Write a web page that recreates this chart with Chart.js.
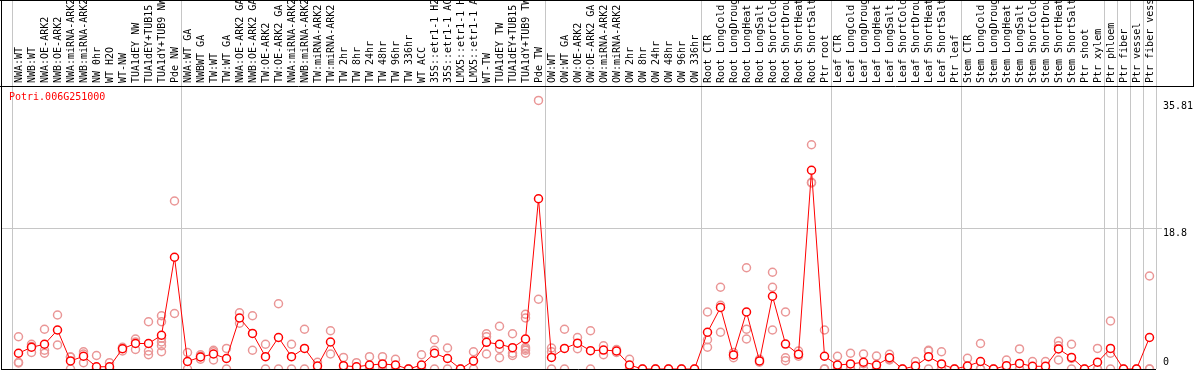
<!DOCTYPE html>
<html>
<head>
<meta charset="utf-8">
<script src="https://cdn.jsdelivr.net/npm/chart.js@4"></script>
<style>
  html, body { margin: 0; padding: 0; background: #fff; }
  #wrap { width: 1194px; height: 370px; }
</style>
</head>
<body>
<div id="wrap"><canvas id="chart" width="1194" height="370"></canvas></div>
<script>
const geneId = 'Potri.006G251000';

const labels = [
  'NWA:WT', 'NWB:WT', 'NWA:OE-ARK2', 'NWB:OE-ARK2', 'NWA:miRNA-ARK2', 'NWB:miRNA-ARK2', 'NW 0hr', 'WT H2O', 'WT-NW',
  'TUA1dEY NW', 'TUA1dEY+TUB15 NW', 'TUA1dY+TUB9 NW', 'Pde NW',
  'NWA:WT GA', 'NWBWT GA', 'TW:WT', 'TW:WT GA', 'NWA:OE-ARK2 GA', 'NWB:OE-ARK2 GA', 'TW:OE-ARK2', 'TW:OE-ARK2 GA',
  'NWA:miRNA-ARK2', 'NWB:miRNA-ARK2', 'TW:miRNA-ARK2', 'TW:miRNA-ARK2', 'TW 2hr', 'TW 8hr', 'TW 24hr', 'TW 48hr',
  'TW 96hr', 'TW 336hr', 'WT ACC', '35S::etr1-1 H2O', '35S::etr1-1 ACC', 'LMX5::etr1-1 H2O', 'LMX5::etr1-1 ACC',
  'WT-TW', 'TUA1dEY TW', 'TUA1dEY+TUB15 TW', 'TUA1dY+TUB9 TW', 'Pde TW',
  'OW:WT', 'OW:WT GA', 'OW:OE-ARK2', 'OW:OE-ARK2 GA', 'OW:miRNA-ARK2', 'OW:miRNA-ARK2', 'OW 2hr', 'OW 8hr',
  'OW 24hr', 'OW 48hr', 'OW 96hr', 'OW 336hr',
  'Root CTR', 'Root LongCold', 'Root LongDrought', 'Root LongHeat', 'Root LongSalt', 'Root ShortCold',
  'Root ShortDrought', 'Root ShortHeat', 'Root ShortSalt', 'Ptr root',
  'Leaf CTR', 'Leaf LongCold', 'Leaf LongDrought', 'Leaf LongHeat', 'Leaf LongSalt', 'Leaf ShortCold',
  'Leaf ShortDrought', 'Leaf ShortHeat', 'Leaf ShortSalt', 'Ptr leaf',
  'Stem CTR', 'Stem LongCold', 'Stem LongDrought', 'Stem LongHeat', 'Stem LongSalt', 'Stem ShortCold',
  'Stem ShortDrought', 'Stem ShortHeat', 'Stem ShortSalt', 'Ptr shoot', 'Ptr xylem',
  'Ptr phloem', 'Ptr fiber', 'Ptr vessel', 'Ptr fiber vessel'
];

// mean expression per sample
const means = [
  2.1, 2.9, 3.3, 5.2, 1.07, 1.7, 0.3, 0.3, 2.7, 3.4, 3.4, 4.5, 14.9,
  1.0, 1.6, 2.0, 1.4, 6.8, 4.75, 1.64, 4.2, 1.64, 2.75, 0.4, 3.6, 0.44, 0.3, 0.53, 0.67,
  0.53, 0, 0.53, 2.1, 1.4, 0, 1.07, 3.56, 3.3, 2.84, 4.0, 22.7,
  1.55, 2.75, 3.45, 2.44, 2.53, 2.4, 0.53, 0, 0, 0, 0, 0,
  4.9, 8.2, 1.87, 7.6, 1.07, 9.7, 3.33, 1.96, 26.5, 1.7,
  0.53, 0.67, 0.9, 0.53, 1.5, 0, 0.4, 1.64, 0.67, 0,
  0.4, 1.0, 0, 0.44, 0.75, 0.36, 0.36, 2.67, 1.55, 0, 0.9,
  2.75, 0, 0, 4.2
];

// individual replicate values per sample
const replicates = [
  [4.3, 0.9, 0.8], [3.3, 3.0, 2.2], [5.3, 2.5, 2.1], [7.2, 3.2], [1.6, 1.6, 0], [2.3, 2.0, 0.85],
  [1.8, 0, 0], [0.85, 0, 0], [2.9, 2.4, 2.8], [4.0, 3.6, 2.6], [6.3, 2.4, 1.9],
  [7.1, 6.3, 4.1, 3.6, 3.1, 2.3], [22.4, 7.4],
  [2.2, 0], [1.9, 1.7, 1.3], [2.5, 2.3, 1.2], [2.75, 0], [7.5, 6.1], [7.1, 2.5], [3.3, 0], [8.7, 0],
  [3.3, 0], [5.3, 0], [0.9, 0], [5.1, 2.0], [1.55, 0, 0], [0.84, 0, 0], [1.64, 0, 0], [1.64, 0.5, 0],
  [1.3, 0, 0], [0, 0], [1.9, 0, 0], [3.9, 2.5, 0], [2.8, 0], [0, 0], [2.3, 0],
  [4.7, 4.3, 2.0], [5.7, 2.7, 1.5], [4.7, 2.1, 1.8], [7.3, 6.8, 2.9, 2.7, 2.5, 2.1], [35.81, 9.3],
  [2.8, 2.3, 0], [5.3, 0], [4.2, 2.7], [5.1, 0], [3.1, 1.9], [2.6, 2.2], [1.3, 0, 0],
  [0, 0], [0, 0], [0, 0], [0, 0], [0, 0],
  [7.6, 3.9, 2.9], [10.9, 8.5, 4.9], [2.2, 1.5], [13.5, 5.3, 4.0], [1.3, 0.9], [12.9, 10.9, 5.2],
  [7.6, 1.5, 1.1], [2.4, 1.7], [29.9, 24.9, 24.8], [5.2, 0, 0],
  [1.7, 0, 0], [2.1, 0, 0], [2.0, 0.7, 0], [1.73, 0, 0], [1.96, 1.33, 1.2], [0, 0],
  [1.0, 0, 0], [2.5, 2.4, 0], [2.3, 0, 0], [0, 0],
  [1.42, 0, 0], [3.4, 0, 0], [0, 0], [1.2, 0, 0], [2.67, 0, 0], [1.0, 0, 0], [1.0, 0, 0],
  [3.7, 3.1, 1.2], [3.3, 1.4, 0], [0, 0], [2.75, 0, 0],
  [6.4, 2.1, 0], [0, 0], [0, 0], [12.4, 0, 0]
];

// index of the first sample in each group (last entry = end)
const groupStarts = [0, 13, 41, 53, 63, 73, 84, 85, 86, 87, 88];
const yMax = 37.6;
const yTickValues = [0, 18.8, 35.81];

const gridColor = '#c6c6c6';
const repColor = 'rgb(234,150,150)';
const clear = 'rgba(0,0,0,0)';

const maxReps = Math.max(...replicates.map(r => r.length));
const repDatasets = [];
for (let r = 0; r < maxReps; r++) {
  repDatasets.push({
    data: replicates.map(v => v[r] !== undefined ? v[r] : null),
    showLine: false,
    pointRadius: 4,
    pointBorderWidth: 1.5,
    pointBorderColor: repColor,
    pointBackgroundColor: clear,
    order: 2,
    clip: false
  });
}

const framePlugin = {
  id: 'frame',
  afterDraw(chart) {
    const { ctx, chartArea: a, scales: { y } } = chart;
    const W = chart.width;
    ctx.save();
    ctx.strokeStyle = '#000';
    ctx.lineWidth = 1;
    ctx.beginPath();
    ctx.moveTo(0, 0.5); ctx.lineTo(W, 0.5);
    ctx.moveTo(0, a.top - 0.5); ctx.lineTo(W, a.top - 0.5);
    ctx.moveTo(1.5, 0); ctx.lineTo(1.5, chart.height);
    ctx.moveTo(W - 0.5, 0); ctx.lineTo(W - 0.5, a.top);
    const y0 = Math.round(y.getPixelForValue(0)) + 0.5;
    ctx.moveTo(1, y0); ctx.lineTo(a.right, y0);
    ctx.stroke();

    // mid gridline runs out to the left frame
    ctx.strokeStyle = gridColor;
    ctx.beginPath();
    const ym = Math.round(y.getPixelForValue(yTickValues[1])) + 0.5;
    ctx.moveTo(2, ym); ctx.lineTo(a.left, ym);
    ctx.stroke();

    ctx.font = '10px "DejaVu Sans Mono"';
    ctx.textBaseline = 'middle';
    ctx.fillStyle = '#000';
    yTickValues.forEach(v => {
      const py = Math.min(y.getPixelForValue(v) + 5.5, a.bottom - 7);
      ctx.fillText(String(v), a.right + 7, py);
    });
    ctx.fillStyle = '#f00';
    ctx.fillText(geneId, 9, a.top + 10);
    ctx.restore();
  }
};

new Chart(document.getElementById('chart'), {
  type: 'line',
  data: {
    labels: labels,
    datasets: [{
      data: means,
      borderColor: '#f00',
      borderWidth: 1,
      tension: 0,
      pointRadius: 4,
      pointBorderWidth: 1.5,
      pointBorderColor: '#f00',
      pointBackgroundColor: '#fff',
      order: 1,
      clip: false
    }, ...repDatasets]
  },
  options: {
    responsive: false,
    animation: false,
    layout: { autoPadding: false, padding: { left: 12, right: 0, top: 0, bottom: 1 } },
    plugins: { legend: { display: false }, tooltip: { enabled: false } },
    scales: {
      x: {
        type: 'category',
        position: 'top',
        offset: true,
        grid: {
          offset: true,
          color: c => (c.index === undefined || groupStarts.includes(c.index)) ? gridColor : clear,
          tickLength: 87
        },
        border: { display: false },
        ticks: {
          autoSkip: false, minRotation: 90, maxRotation: 90, padding: -83, labelOffset: 13,
          color: '#000', font: { family: 'DejaVu Sans Mono', size: 10 }
        },
        afterFit: s => { s.height = 87; }
      },
      y: {
        position: 'right',
        min: 0,
        max: yMax,
        afterBuildTicks: s => { s.ticks = yTickValues.map(v => ({ value: v })); },
        grid: {
          color: c => (c.tick && c.tick.value === yTickValues[1]) ? gridColor : clear,
          tickLength: 6
        },
        border: { display: false },
        ticks: { display: false },
        afterFit: s => { s.width = 38; }
      }
    }
  },
  plugins: [framePlugin]
});
</script>
</body>
</html>
